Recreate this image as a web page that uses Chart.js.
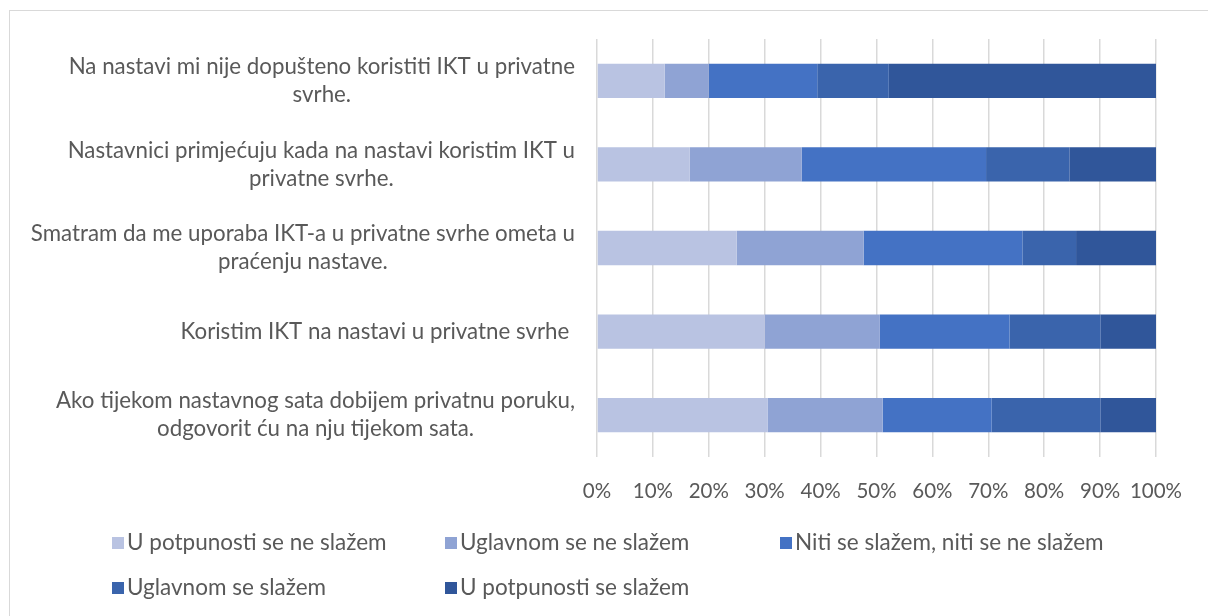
<!DOCTYPE html>
<html>
<head>
<meta charset="utf-8">
<script src="https://cdn.jsdelivr.net/npm/chart.js@4"></script>
<style>
  body { margin: 0; background: #fff; font-family: Lato, sans-serif; }
  #wrap { position: relative; width: 1208px; height: 616px; overflow: hidden; }
  #okvir { position: absolute; left: 9px; top: 10px; width: 1300px; height: 700px; border: 1px solid #d9d9d9; }
  #grafikon { position: absolute; left: 0; top: 0; }
  .legenda-stavka { position: absolute; font-size: 22.5px; color: #595959; white-space: nowrap; line-height: 22px; }
  .legenda-stavka span { display: inline-block; width: 12px; height: 12px; margin-right: 3px; vertical-align: 1px; }
</style>
</head>
<body>
<div id="wrap">
  <div id="okvir"></div>
  <canvas id="grafikon" width="1208" height="616"></canvas>
  <div id="legenda"></div>
</div>
<script>
// Kategorije (svaka je niz redaka kao u originalu)
const kategorije = [
    ['Na nastavi mi nije dopušteno koristiti IKT u privatne', 'svrhe.'],
    ['Nastavnici primjećuju kada na nastavi koristim IKT u', 'privatne svrhe.'],
    ['Smatram da me uporaba IKT-a u privatne svrhe ometa u', 'praćenju nastave.'],
    ['Koristim IKT na nastavi u privatne svrhe '],
    ['Ako tijekom nastavnog sata dobijem privatnu poruku,', 'odgovorit ću na nju tijekom sata.']
];

const nazivi = ['U potpunosti se ne slažem', 'Uglavnom se ne slažem', 'Niti se slažem, niti se ne slažem', 'Uglavnom se slažem', 'U potpunosti se slažem'];
const boje = ['#B9C3E2', '#8FA3D4', '#4472C4', '#3A64AC', '#30569A'];

// Udjeli (%) po kategoriji
const uPotpunostiNe = [12.1, 16.6, 25.0, 30.0, 30.5];
const uglavnomNe = [7.9, 20.0, 22.7, 20.6, 20.6];
const nitiNiti = [19.4, 33.0, 28.4, 23.2, 19.5];
const uglavnomDa = [12.8, 14.9, 9.6, 16.3, 19.5];
const uPotpunostiDa = [47.8, 15.5, 14.3, 9.9, 9.9];

const xTickovi = [0, 10, 20, 30, 40, 50, 60, 70, 80, 90, 100];

const serije = [uPotpunostiNe, uglavnomNe, nitiNiti, uglavnomDa, uPotpunostiDa];

// Crtanje oznaka kategorija (višeredne, centrirane unutar bloka, blok poravnat desno)
const oznakePlugin = {
    id: 'oznakeKategorija',
    afterDraw(chart) {
        const c = chart.ctx;
        const y = chart.scales.y;
        const desno = chart.chartArea.left - 22;
        c.save();
        c.font = '22.3px Lato';
        c.fillStyle = '#595959';
        c.textAlign = 'center';
        c.textBaseline = 'middle';
        kategorije.forEach((redovi, i) => {
            const sirina = Math.max(...redovi.map(r => c.measureText(r).width));
            const cx = desno - sirina / 2;
            const cy = y.getPixelForValue(i);
            redovi.forEach((r, k) => {
                c.fillText(r, cx, cy + (k - (redovi.length - 1) / 2) * 28);
            });
        });
        c.restore();
    }
};

const ctx = document.getElementById('grafikon').getContext('2d');
new Chart(ctx, {
    type: 'bar',
    data: {
        labels: kategorije.map(k => k.join(' ')),
        datasets: serije.map((s, i) => ({
            label: nazivi[i],
            data: s,
            backgroundColor: boje[i],
            borderWidth: 0,
            categoryPercentage: 1,
            barPercentage: 0.41
        }))
    },
    options: {
        indexAxis: 'y',
        responsive: false,
        animation: false,
        layout: { padding: { top: 39, right: 52, left: 0, bottom: 0 } },
        plugins: {
            legend: { display: false },
            tooltip: { enabled: false }
        },
        scales: {
            x: {
                stacked: true,
                min: 0,
                max: 100,
                afterBuildTicks: (s) => { s.ticks = xTickovi.map(v => ({ value: v })); },
                afterFit: (s) => { s.height = 159; },
                grid: { color: '#d9d9d9', lineWidth: 1.5, drawTicks: false },
                border: { display: false },
                ticks: {
                    padding: 22,
                    color: '#595959',
                    font: { family: 'Lato', size: 20.5 },
                    maxRotation: 0,
                    minRotation: 0,
                    autoSkip: false,
                    callback: (v) => v + '%'
                }
            },
            y: {
                stacked: true,
                afterFit: (s) => { s.width = 597; },
                grid: { display: false },
                border: { display: false },
                ticks: { display: false }
            }
        }
    },
    plugins: [oznakePlugin]
});

// Legenda u dva reda, poravnata u stupce
const legenda = document.getElementById('legenda');
const pozicije = [[112, 531], [445, 531], [780, 531], [112, 576], [445, 576]];
legenda.innerHTML = nazivi.map((n, i) => `
    <div class="legenda-stavka" style="left:${pozicije[i][0]}px; top:${pozicije[i][1]}px">
        <span style="background:${boje[i]}"></span>${n}
    </div>
`).join('');
</script>
</body>
</html>
